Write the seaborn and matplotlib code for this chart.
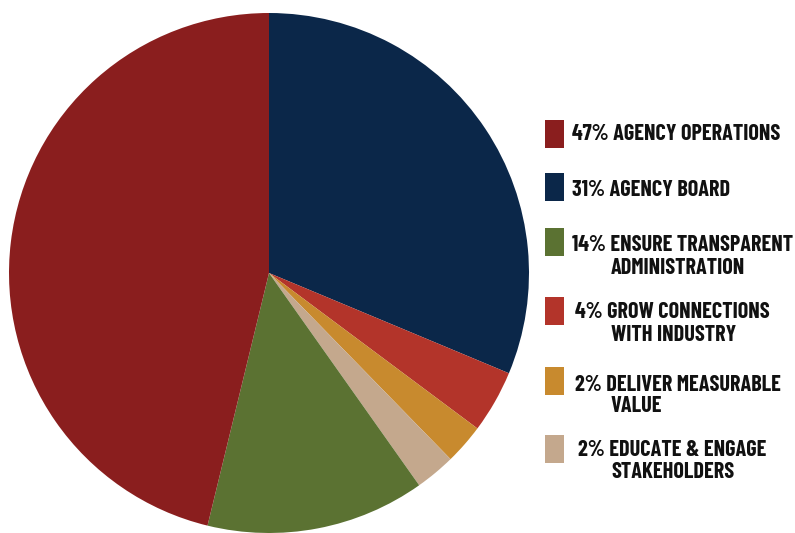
import matplotlib
matplotlib.use("Agg")
import matplotlib.pyplot as plt
import seaborn as sns
from matplotlib.patches import Rectangle

sns.set_theme(style="white")
plt.rcParams['font.family'] = ['Barlow Condensed', 'DejaVu Sans']

# Data (pie order, clockwise from 12 o'clock), slice shares
pie_values = [31.3, 3.9, 2.5, 2.5, 13.6, 46.2]
pie_colors = ["#0B2749", "#B3342A", "#C88A2E", "#C4A88D", "#5B7232", "#8A1E1E"]

# Legend entries (display order)
legend_line1 = ["47% AGENCY OPERATIONS", "31% AGENCY BOARD", "14% ENSURE TRANSPARENT",
                "4% GROW CONNECTIONS", "2% DELIVER MEASURABLE", "2% EDUCATE & ENGAGE"]
legend_line2 = ["", "", "ADMINISTRATION", "WITH INDUSTRY", "VALUE", "STAKEHOLDERS"]
legend_colors = ["#8A1E1E", "#0B2749", "#5B7232", "#B3342A", "#C88A2E", "#C4A88D"]

W, H = 795, 533
fig = plt.figure(figsize=(W / 100, H / 100), dpi=100)
fig.patch.set_facecolor("white")

ax = fig.add_axes([9 / W, 0, 520 / W, 520 / H])
ax.pie(pie_values, colors=pie_colors, startangle=90, counterclock=False,
       wedgeprops=dict(linewidth=0))
ax.set_aspect("equal")
ax.set_xlim(-1, 1)
ax.set_ylim(-1, 1)
ax.axis("off")

# legend layout in pixel coordinates
sq_tops = [120, 173, 228, 297, 367, 435]
l1_y = [134, 190, 245, 312, 385, 450]
l2_y = [None, None, 268, 335, 406, 472]
l1_x = [572, 572, 572, 575, 575, 578]
l2_x = 611

def fx(x):
    return x / W

def fy(y):
    return 1 - y / H

for i in range(len(legend_line1)):
    top = sq_tops[i]
    fig.patches.append(Rectangle((fx(545), fy(top + 28)), 19 / W, 28 / H,
                                 transform=fig.transFigure, facecolor=legend_colors[i],
                                 edgecolor="none"))
    fig.text(fx(l1_x[i]), fy(l1_y[i]), legend_line1[i], ha="left", va="center",
             fontsize=16, fontweight="bold", color="#111111")
    if legend_line2[i]:
        fig.text(fx(l2_x), fy(l2_y[i]), legend_line2[i], ha="left", va="center",
                 fontsize=16, fontweight="bold", color="#111111")

fig.savefig("out.png", dpi=100, facecolor="white")
